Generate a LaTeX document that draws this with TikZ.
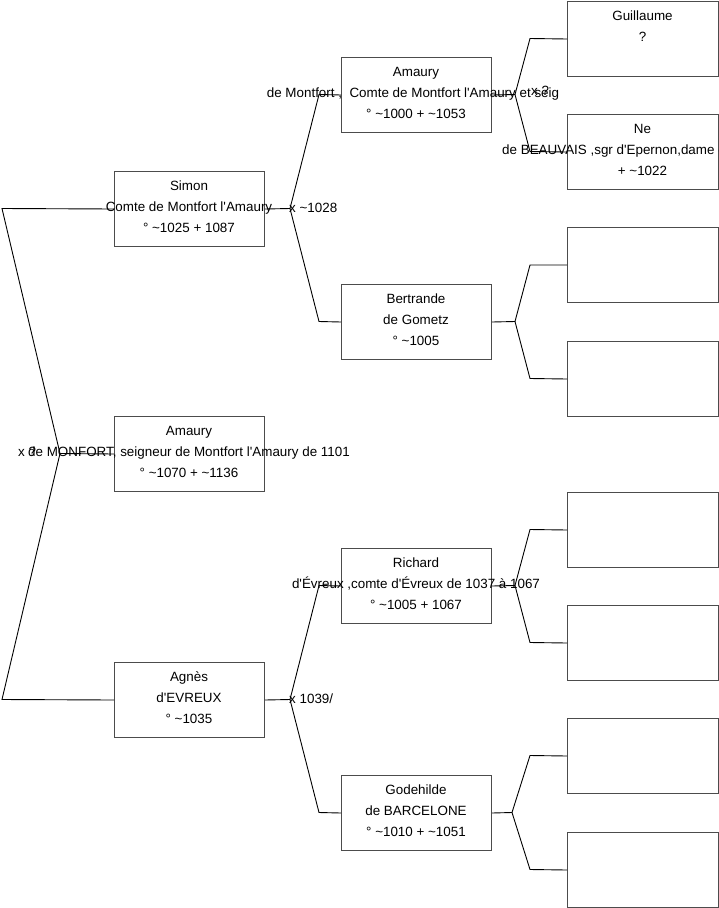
\documentclass[tikz,border=0pt]{standalone}
\usepackage{fontspec}
\setmainfont{Liberation Sans}[Ligatures=TeXOff]
\begin{document}
\begin{tikzpicture}[x=1pt,y=-1pt,
  person/.style={draw=black!70,line width=1pt,fill=white,minimum width=150pt,minimum height=75pt,inner sep=0pt},
  link/.style={draw=black,line width=0.9pt},
  txt/.style={font=\fontsize{13.4pt}{15pt}\selectfont,inner sep=0pt,anchor=base},
  lbl/.style={font=\fontsize{13.4pt}{15pt}\selectfont,inner sep=0pt}]
\useasboundingbox (0,0) rectangle (719,908);
\clip (0,0) rectangle (719,908);
\fill[white] (0,0) rectangle (719,908);

% generation 1 boxes
\node[person,anchor=north west] (simon) at (114,171) {};
\node[person,anchor=north west] (amaury0) at (114,416) {};
\node[person,anchor=north west] (agnes) at (114,662) {};
% generation 2
\node[person,anchor=north west] (amaury1) at (341,57) {};
\node[person,anchor=north west] (bertrande) at (341,284) {};
\node[person,anchor=north west] (richard) at (341,548) {};
\node[person,anchor=north west] (godehilde) at (341,775) {};
% generation 3
\node[person,anchor=north west,minimum width=151pt] (g1) at (567,1) {};
\node[person,anchor=north west,minimum width=151pt] (g2) at (567,114) {};
\node[person,anchor=north west,minimum width=151pt] (g3) at (567,227) {};
\node[person,anchor=north west,minimum width=151pt] (g4) at (567,341) {};
\node[person,anchor=north west,minimum width=151pt] (g5) at (567,492) {};
\node[person,anchor=north west,minimum width=151pt] (g6) at (567,605) {};
\node[person,anchor=north west,minimum width=151pt] (g7) at (567,718) {};
\node[person,anchor=north west,minimum width=151pt] (g8) at (567,832) {};

% junction coordinates
\coordinate (j0) at (60,453.5);
\coordinate (j0a) at (2,208.5);
\coordinate (j0b) at (2,699.5);
\coordinate (j1) at (290,208.5);
\coordinate (j1a) at (319,94.5);
\coordinate (j1b) at (319,321.5);
\coordinate (j2) at (290,699.5);
\coordinate (j2a) at (319,585.5);
\coordinate (j2b) at (319,812.5);
\coordinate (k1) at (515,94.5);
\coordinate (k1a) at (530,38.5);
\coordinate (k1b) at (530,151.5);
\coordinate (k2) at (515,321.5);
\coordinate (k2a) at (530,265);
\coordinate (k2b) at (530,378.5);
\coordinate (k3) at (515,585.5);
\coordinate (k3a) at (530,529.5);
\coordinate (k3b) at (530,642.5);
\coordinate (k4) at (512,812.5);
\coordinate (k4a) at (530,755.5);
\coordinate (k4b) at (530,869.5);

% connectors
\draw[link] (simon.west) -- (j0a) -- (j0) -- (j0b) -- (agnes.west);
\draw[link] (j0) -- (amaury0.west);
\draw[link] (simon.east) -- (j1);
\draw[link] (amaury1.west) -- (j1a) -- (j1) -- (j1b) -- (bertrande.west);
\draw[link] (agnes.east) -- (j2);
\draw[link] (richard.west) -- (j2a) -- (j2) -- (j2b) -- (godehilde.west);
\draw[link] (amaury1.east) -- (k1);
\draw[link] (g1.west) -- (k1a) -- (k1) -- (k1b) -- (g2.west);
\draw[link] (bertrande.east) -- (k2);
\draw[link] (g3.west) -- (k2a) -- (k2) -- (k2b) -- (g4.west);
\draw[link] (richard.east) -- (k3);
\draw[link] (g5.west) -- (k3a) -- (k3) -- (k3b) -- (g6.west);
\draw[link] (godehilde.east) -- (k4);
\draw[link] (g7.west) -- (k4a) -- (k4) -- (k4b) -- (g8.west);

% texts: generation 1
\node[txt] (t1a) at (189,190.5) {Simon};
\node[txt] (t1b) at (189,211.5) {Comte de Montfort l'Amaury};
\node[txt] (t1c) at (189,232.5) {° \textasciitilde1025 + 1087};
\node[txt] (t2a) at (189,435.5) {Amaury};
\node[txt] (t2b) at (189,456.5) {de MONFORT, seigneur de Montfort l'Amaury de 1101};
\node[txt] (t2c) at (189,477.5) {° \textasciitilde1070 + \textasciitilde1136};
\node[txt] (t3a) at (189,681.5) {Agnès};
\node[txt] (t3b) at (189,702.5) {d'EVREUX};
\node[txt] (t3c) at (189,723.5) {° \textasciitilde1035};
% generation 2
\node[txt] (t4a) at (416,76.5) {Amaury};
\node[txt] (t4b) at (413,97.5) {de Montfort ,\ \ Comte de Montfort l'Amaury et seig};
\node[txt] (t4c) at (416,118.5) {° \textasciitilde1000 + \textasciitilde1053};
\node[txt] (t5a) at (416,303.5) {Bertrande};
\node[txt] (t5b) at (416,324.5) {de Gometz};
\node[txt] (t5c) at (416,345.5) {° \textasciitilde1005};
\node[txt] (t6a) at (416,567.5) {Richard};
\node[txt] (t6b) at (416,588.5) {d'Évreux ,comte d'Évreux de 1037 à 1067};
\node[txt] (t6c) at (416,609.5) {° \textasciitilde1005 + 1067};
\node[txt] (t7a) at (416,794.5) {Godehilde};
\node[txt] (t7b) at (416,815.5) {de BARCELONE};
\node[txt] (t7c) at (416,836.5) {° \textasciitilde1010 + \textasciitilde1051};
% generation 3
\node[txt] (t8a) at (642.5,20.5) {Guillaume};
\node[txt] (t8b) at (642.5,41.5) {?};
\node[txt] (t9a) at (642.5,133.5) {Ne};
\node[txt,anchor=base west] (t9b) at (502,154.5) {de BEAUVAIS ,sgr d'Epernon,dame d'Épernon};
\node[txt] (t9c) at (642.5,175.5) {+ \textasciitilde1022};

% marriage labels
\node[lbl,anchor=west] (m0) at (18,452) {x ?};
\node[lbl,anchor=west] (m1) at (289,208) {x \textasciitilde1028};
\node[lbl,anchor=west] (m2) at (289,699) {x 1039/};
\node[lbl,anchor=west] (m3) at (531,91) {x ?};
\end{tikzpicture}
\end{document}
